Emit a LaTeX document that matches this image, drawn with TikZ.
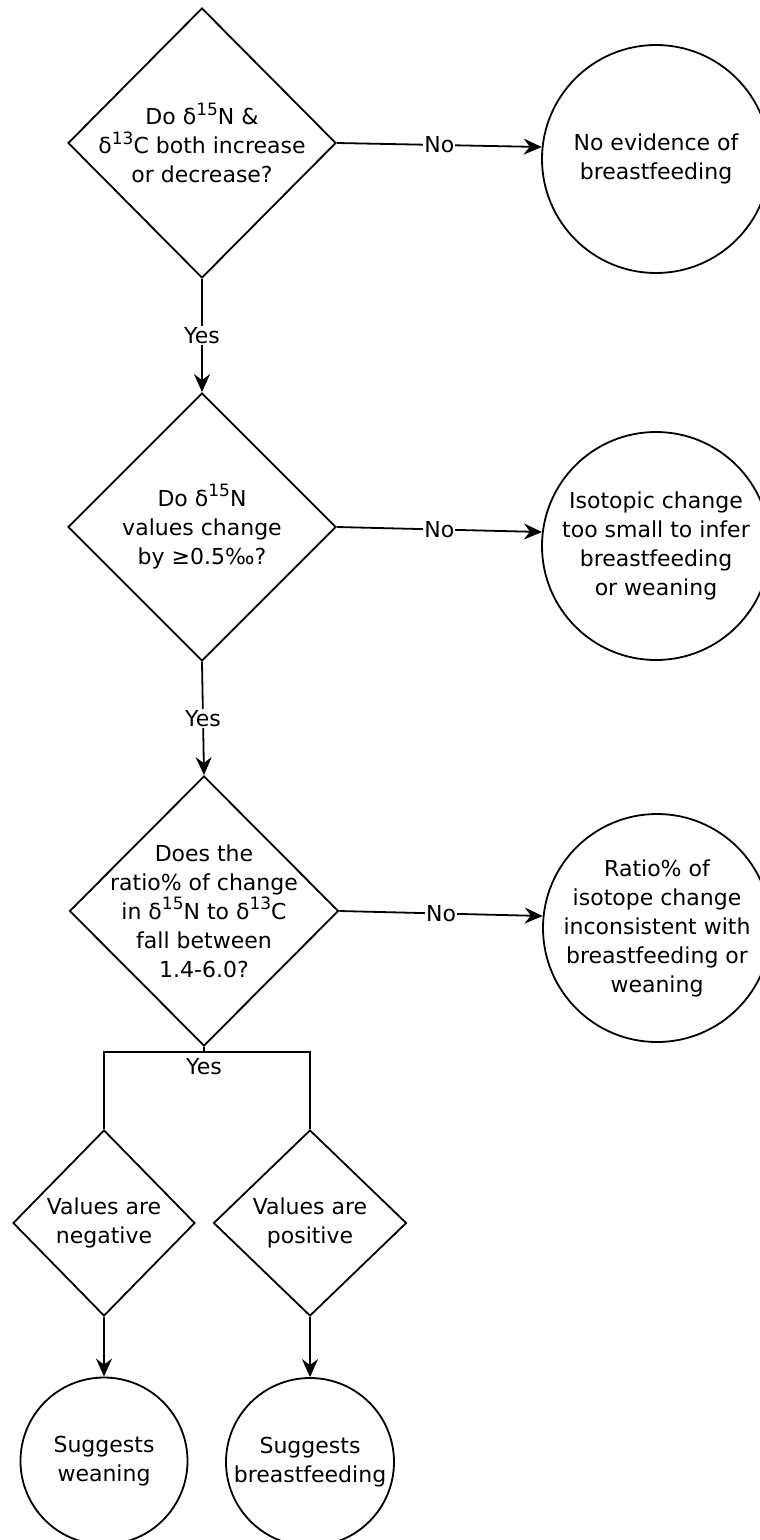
\documentclass[tikz,border=0pt]{standalone}
\usepackage{fontspec}
\setmainfont{DejaVu Sans}
\usepackage{tikz}
\usetikzlibrary{arrows.meta, positioning, shapes.geometric, calc}

\newcommand{\iso}[1]{\raisebox{0.45em}{\fontsize{17}{17}\selectfont #1}}

\begin{document}
\begin{tikzpicture}[
  x=1pt, y=-1pt,
  font=\fontsize{22}{29}\selectfont,
  dec/.style={diamond, draw, line width=1.8pt, align=center, inner sep=-60pt},
  res/.style={circle, draw, line width=1.8pt, align=center, inner sep=-10pt,
    minimum size=228pt},
  arr/.style={-{Stealth[length=18pt, width=16pt, inset=6pt]}, line width=1.8pt},
  lnk/.style={line width=1.8pt},
  lbl/.style={fill=white, inner sep=1pt}
]
\useasboundingbox (0,0) rectangle (760,1540);

\node[dec, minimum width=268pt, minimum height=270pt] (q1) at (202,143) {Do δ\iso{15}N \&\\δ\iso{13}C both increase\\or decrease?};
\node[res] (r1) at (656,159) {No evidence of\\breastfeeding};

\node[dec, minimum width=268pt, minimum height=268pt] (q2) at (202,527) {Do δ\iso{15}N\\values change\\by ≥0.5‰?};
\node[res] (r2) at (656,546) {Isotopic change\\too small to infer\\breastfeeding\\or weaning};

\node[dec, minimum width=269pt, minimum height=270pt] (q3) at (204,911) {Does the\\ratio\% of change\\in δ\iso{15}N to δ\iso{13}C\\fall between\\1.4-6.0?};
\node[res] (r3) at (657,928) {Ratio\% of\\isotope change\\inconsistent with\\breastfeeding or\\weaning};

\node[dec, minimum width=182pt, minimum height=186pt] (q4) at (104,1223) {Values are\\negative};
\node[dec, minimum width=193pt, minimum height=186pt] (q5) at (310,1223) {Values are\\positive};

\node[res, minimum size=167pt] (r4) at (104,1461) {Suggests\\weaning};
\node[res, minimum size=168pt] (r5) at (310,1462) {Suggests\\breastfeeding};

\coordinate (split) at ($(q3.south)+(0,5)$);
\node[below=3pt of split] (yes3) {Yes};

\draw[arr] (q1.east) -- node[lbl] {No} (r1.174);
\draw[arr] (q1.south) -- node[lbl] {Yes} (q2.north);
\draw[arr] (q2.east) -- node[lbl] {No} (r2.173);
\draw[arr] (q2.south) -- node[lbl] {Yes} (q3.north);
\draw[arr] (q3.east) -- node[lbl] {No} (r3.174);
\draw[lnk] (q3.south) -- (split);
\draw[lnk] (split) -| (q4.north);
\draw[lnk] (split) -| (q5.north);
\draw[arr] (q4.south) -- (r4.north);
\draw[arr] (q5.south) -- (r5.north);
\end{tikzpicture}
\end{document}
